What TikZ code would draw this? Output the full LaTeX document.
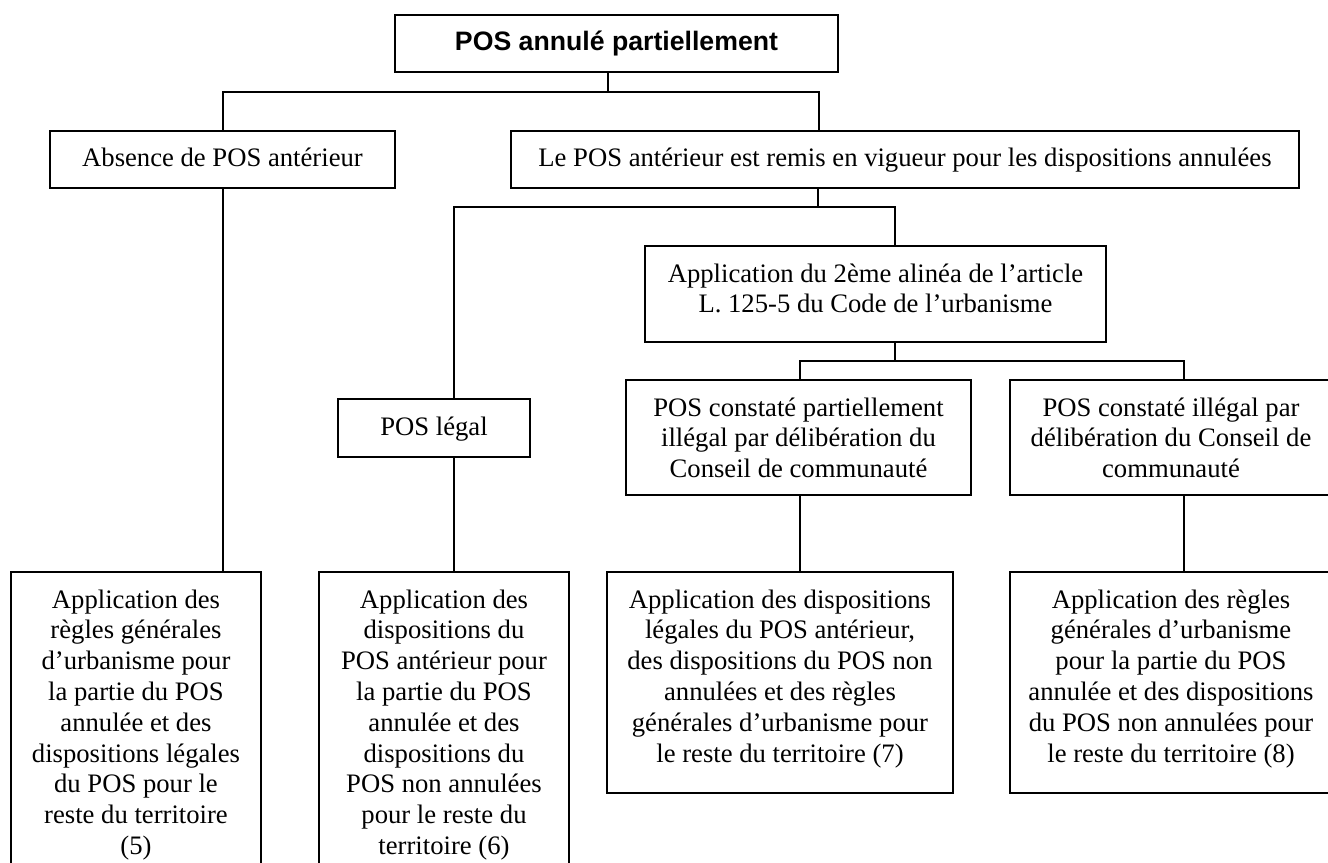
\documentclass[tikz,border=0pt]{standalone}
\usepackage{fontspec}
\setmainfont{Liberation Serif}
\newfontfamily\arialfont{Liberation Sans}
\newdimen\pxu
\pxu=0.75pt
\newcommand{\boxtxt}[3]{\parbox[c][#2\pxu][t]{#1\pxu}{\centering\rule{0pt}{36\pxu}#3}}
\begin{document}
\begin{tikzpicture}[x=0.75pt,y=-0.75pt,
  bx/.style={draw=black,line width=1.2pt,inner sep=0pt,fill=white,
    font=\fontsize{20}{23.1}\selectfont},
  conn/.style={draw=black,line width=1pt}]
\useasboundingbox (0,0) rectangle (1328,863);
\clip (0,0) rectangle (1328,863);
\fill[white] (0,0) rectangle (1328,863);
% boxes
\node[bx] (top) at (616.5,43.5) {\boxtxt{443}{57}{\arialfont\bfseries POS annulé partiellement}};
\node[bx] (abs) at (222.5,159.5) {\boxtxt{345}{57}{Absence de POS antérieur}};
\node[bx] (lepos) at (905,159.5) {\boxtxt{788}{57}{Le POS antérieur est remis en vigueur pour les dispositions annulées}};
\node[bx] (app) at (875.5,294) {\boxtxt{461}{96}{Application du 2ème alinéa de l’article\\L. 125-5 du Code de l’urbanisme}};
\node[bx] (legal) at (434,428) {\boxtxt{192}{58}{POS légal}};
\node[bx] (part) at (798.5,437.5) {\boxtxt{345}{115}{POS constaté partiellement\\illégal par délibération du\\Conseil de communauté}};
\node[bx] (ill) at (1171,437.5) {\boxtxt{322}{115}{POS constaté illégal par\\délibération du Conseil de\\communauté}};
\node[bx] (b5) at (136,722) {\boxtxt{250}{300}{Application des\\règles générales\\d’urbanisme pour\\la partie du POS\\annulée et des\\dispositions légales\\du POS pour le\\reste du territoire\\(5)}};
\node[bx] (b6) at (444,722) {\boxtxt{250}{300}{Application des\\dispositions du\\POS antérieur pour\\la partie du POS\\annulée et des\\dispositions du\\POS non annulées\\pour le reste du\\territoire (6)}};
\node[bx] (b7) at (780,682.5) {\boxtxt{346}{221}{Application des dispositions\\légales du POS antérieur,\\des dispositions du POS non\\annulées et des règles\\générales d’urbanisme pour\\le reste du territoire (7)}};
\node[bx] (b8) at (1171,682.5) {\boxtxt{322}{221}{Application des règles\\générales d’urbanisme\\pour la partie du POS\\annulée et des dispositions\\du POS non annulées pour\\le reste du territoire (8)}};
% junctions
\coordinate (j1) at (608,92);
\coordinate (b1l) at (223,92);
\coordinate (b1r) at (819,92);
\coordinate (j2) at (818,207);
\coordinate (b2l) at (454,207);
\coordinate (b2r) at (895,207);
\coordinate (j3) at (895,361);
\coordinate (b3l) at (800,361);
\coordinate (b3r) at (1184,361);
% connectors
\draw[conn] (top.south -| j1) -- (j1);
\draw[conn] (abs.north -| b1l) -- (b1l) -- (b1r) -- (lepos.north -| b1r);
\draw[conn] (abs.south -| b1l) -- (b5.north -| b1l);
\draw[conn] (lepos.south -| j2) -- (j2);
\draw[conn] (legal.north -| b2l) -- (b2l) -- (b2r) -- (app.north -| b2r);
\draw[conn] (legal.south -| b2l) -- (b6.north -| b2l);
\draw[conn] (app.south -| j3) -- (j3);
\draw[conn] (part.north -| b3l) -- (b3l) -- (b3r) -- (ill.north -| b3r);
\draw[conn] (part.south -| b3l) -- (b7.north -| b3l);
\draw[conn] (ill.south -| b3r) -- (b8.north -| b3r);
\end{tikzpicture}
\end{document}
